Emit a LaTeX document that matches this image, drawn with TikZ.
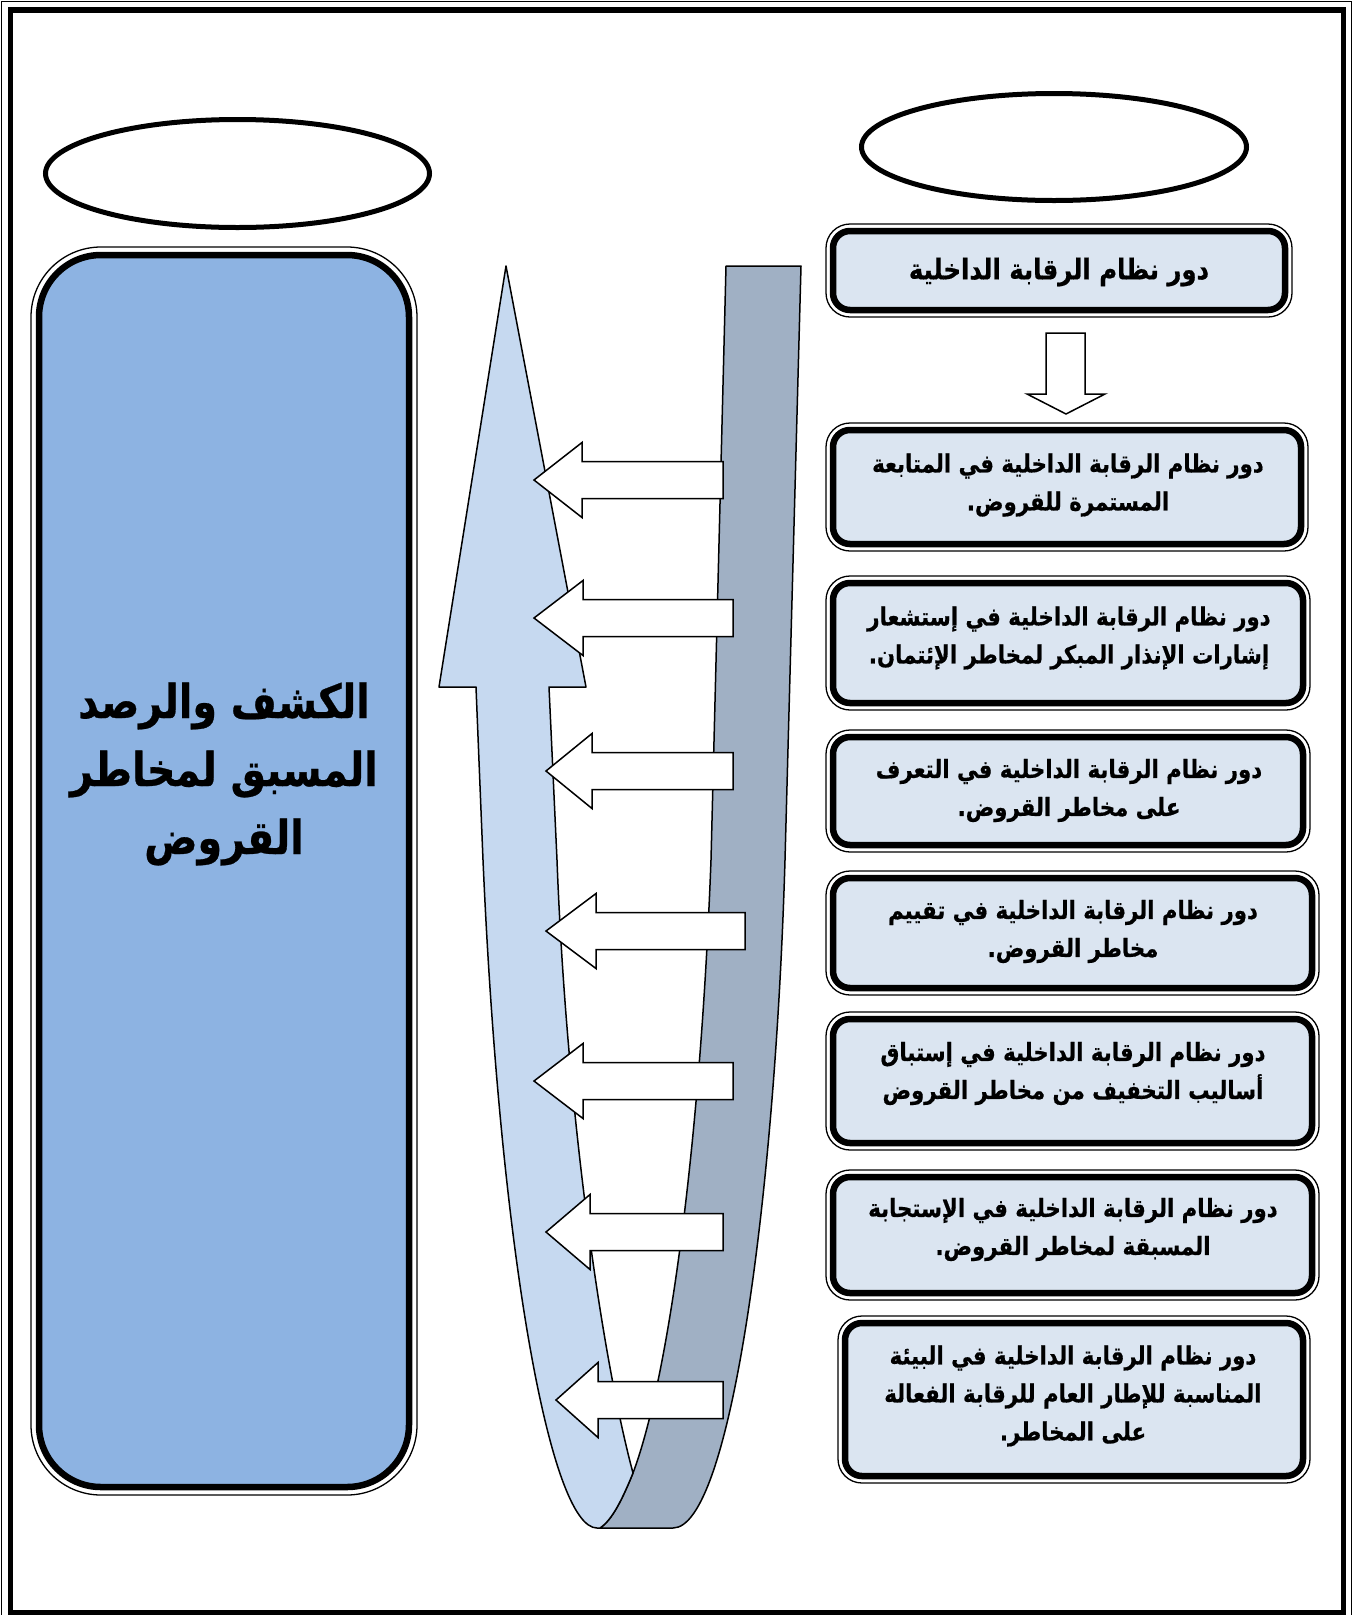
\documentclass[tikz,border=0pt]{standalone}
\usepackage{fontspec}
\usetikzlibrary{calc,shapes.geometric}
\TeXXeTstate=1
\newfontfamily\arabicfont[Script=Arabic,FakeStretch=0.85,FakeBold=0.6]{DejaVu Sans}

\definecolor{bigfill}{RGB}{141,179,226}
\definecolor{boxfill}{RGB}{219,229,241}
\definecolor{lightband}{RGB}{198,217,240}
\definecolor{darkband}{RGB}{160,176,196}

\tikzset{
  thinframe/.style={draw=black, line width=1.2},
  thickframe/.style={draw=black, line width=5.5},
  oval/.style={draw=black, line width=5, ellipse, inner sep=0, fill=white},
  rolebox/.style={draw=black, line width=6.5, fill=boxfill, rounded corners=17,
                  rectangle, inner sep=0, outer sep=0},
  roleouter/.style={draw=black, line width=1.3, rounded corners=24},
  bigbox/.style={draw=black, line width=6.5, fill=bigfill, rounded corners=62,
                 rectangle, inner sep=0, outer sep=0},
  bigouter/.style={draw=black, line width=1.3, rounded corners=70},
  roletext/.style={font=\arabicfont\bfseries\fontsize{25}{38}\selectfont,
                   align=center, inner sep=0},
  titletext/.style={font=\arabicfont\bfseries\fontsize{28.6}{32}\selectfont,
                   align=center, inner sep=0},
  bigtext/.style={font=\arabicfont\bfseries\fontsize{46.6}{68}\selectfont,
                   align=center, inner sep=0},
  band/.style={draw=black, line width=1.5, line join=round},
  blockarrow/.style={draw=black, line width=1.5, fill=white, line join=miter},
}

% left-pointing block arrow: tip x, centre y, head base x, tail x
\newcommand{\leftblock}[4]{%
  \path[blockarrow] (#1,#2) -- (#3,#2-37.5) -- (#3,#2-18.5) -- (#4,#2-18.5)
     -- (#4,#2+18.5) -- (#3,#2+18.5) -- (#3,#2+37.5) -- cycle;}

% double-ruled rounded box: name, centre, outer width, outer height
\newcommand{\rulebox}[4]{%
  \node[rolebox, minimum width=#3-14, minimum height=#4-14] (#1) at (#2) {};
  \draw[roleouter] ($(#1.north west)+(-7,-7)$) rectangle ($(#1.south east)+(7,7)$);}

\begin{document}
\begin{tikzpicture}[x=1pt,y=-1pt]
\useasboundingbox (0,0) rectangle (1357,1615);
\fill[white] (0,0) rectangle (1357,1615);

% page frame
\draw[thinframe] (1.5,1.5) rectangle (1351.5,1640);
\draw[thickframe] (10.5,10) rectangle (1343.5,1612.5);

% empty ovals above both columns
\node[oval, minimum width=384, minimum height=108] (ovalL) at (237.5,173.5) {};
\node[oval, minimum width=385, minimum height=107] (ovalR) at (1054,147) {};

% large left box
\node[bigbox, minimum width=370, minimum height=1232] (detect) at (224,871) {};
\draw[bigouter] ($(detect.north west)+(-8,-8)$) rectangle ($(detect.south east)+(8,8)$);
\node[bigtext] (detectT) at (224,774)
  {\beginR الكشف والرصد\endR\\ \beginR المسبق لمخاطر\endR\\ \beginR القروض\endR};

% U-turn band: back (dark) strip
\path[band, fill=darkband] (726,266) -- (801,266) -- (785,860)
  .. controls (775,1200) and (730,1528) .. (673,1528) -- (600,1528)
  .. controls (612,1520) and (622,1500) .. (633,1473)
  .. controls (668,1380) and (700,1150) .. (711,860) -- cycle;

% U-turn band: front (light) strip ending in the upward arrow head
\path[band, fill=lightband] (506,266) -- (586,687) -- (549,687) -- (557,860)
  .. controls (566,1100) and (600,1350) .. (633,1473)
  .. controls (622,1500) and (612,1520) .. (600,1528) -- (597,1528)
  .. controls (550,1528) and (500,1250) .. (483,860) -- (476,687) -- (439,687) -- cycle;

% small arrows pointing to the left box
\leftblock{534}{480}{582}{723}
\leftblock{534}{618}{583}{733}
\leftblock{546}{771}{592}{733}
\leftblock{546}{931}{596}{745}
\leftblock{534}{1081}{583}{733}
\leftblock{546}{1232}{590}{723}
\leftblock{556}{1400}{598}{723}

% right column boxes
\rulebox{b0}{1059,270.5}{466}{93}
\rulebox{b1}{1067,487}{482}{128}
\rulebox{b2}{1068,643}{484}{134}
\rulebox{b3}{1068,791}{484}{122}
\rulebox{b4}{1072.5,933}{493}{124}
\rulebox{b5}{1072.5,1081}{493}{138}
\rulebox{b6}{1072.5,1235}{493}{130}
\rulebox{b7}{1074,1399.5}{472}{167}

% down arrow under the title box
\path[blockarrow] (1046,333) -- (1085,333) -- (1085,394) -- (1105,394)
  -- (1066,414) -- (1027,394) -- (1046,394) -- cycle;

% box texts
\node[titletext] (t0) at (1059,272) {\beginR دور نظام الرقابة الداخلية\endR};
\node[roletext] (t1) at (1068,485)
  {\beginR دور نظام الرقابة الداخلية في المتابعة\endR\\ \beginR المستمرة للقروض.\endR};
\node[roletext] (t2) at (1069,638)
  {\beginR دور نظام الرقابة الداخلية في إستشعار\endR\\ \beginR إشارات الإنذار المبكر لمخاطر الإئتمان.\endR};
\node[roletext] (t3) at (1069,790.5)
  {\beginR دور نظام الرقابة الداخلية في التعرف\endR\\ \beginR على مخاطر القروض.\endR};
\node[roletext] (t4) at (1073,931.5)
  {\beginR دور نظام الرقابة الداخلية في تقييم\endR\\ \beginR مخاطر القروض.\endR};
\node[roletext] (t5) at (1073,1073.5)
  {\beginR دور نظام الرقابة الداخلية في إستباق\endR\\ \beginR أساليب التخفيف من مخاطر القروض\endR};
\node[roletext] (t6) at (1073,1229.5)
  {\beginR دور نظام الرقابة الداخلية في الإستجابة\endR\\ \beginR المسبقة لمخاطر القروض.\endR};
\node[roletext] (t7) at (1073,1396)
  {\beginR دور نظام الرقابة الداخلية في البيئة\endR\\ \beginR المناسبة للإطار العام للرقابة الفعالة\endR\\ \beginR على المخاطر.\endR};
\end{tikzpicture}
\end{document}
